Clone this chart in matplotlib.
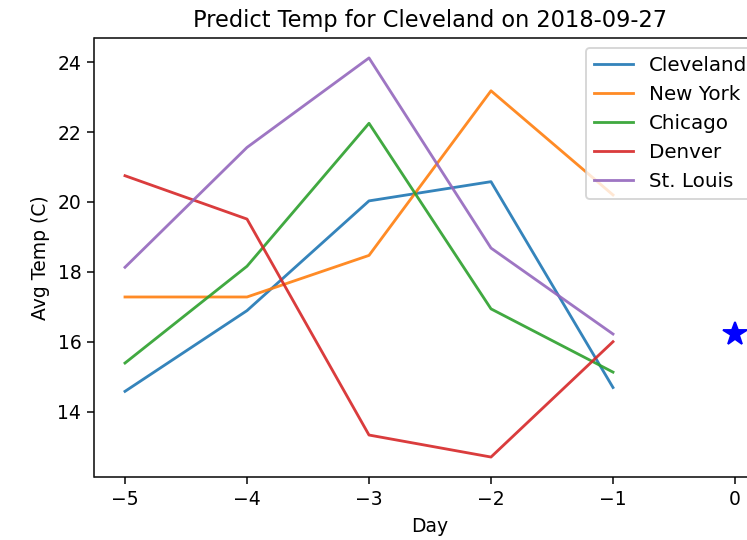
import matplotlib
matplotlib.use("Agg")
import matplotlib.pyplot as plt

days = [-5, -4, -3, -2, -1]
cities = ["Cleveland", "New York", "Chicago", "Denver", "St. Louis"]
cleveland = [14.58, 16.89, 20.03, 20.58, 14.69]
new_york = [17.28, 17.28, 18.47, 23.18, 20.2]
chicago = [15.39, 18.16, 22.25, 16.94, 15.13]
denver = [20.75, 19.51, 13.33, 12.70, 16.0]
st_louis = [18.13, 21.56, 24.12, 18.68, 16.22]
pred_day = [0]
pred_temp = [16.22]

series = [cleveland, new_york, chicago, denver, st_louis]

DPI = 135
fig = plt.figure(figsize=(748 / DPI, 540 / DPI), dpi=DPI)
ax = fig.add_axes([94.5 / 748, 63 / 540, 671 / 748, 439 / 540])

for name, vals in zip(cities, series):
    ax.plot(days, vals, label=name, alpha=0.9)
ax.plot(pred_day, pred_temp, "b*", markersize=13)

ax.set_title("Predict Temp for Cleveland on 2018-09-27")
ax.set_xlabel("Day")
ax.set_ylabel("Avg Temp (C)")
ax.legend(loc="upper right", fontsize=10.6)

fig.savefig("out.png", dpi=DPI)
